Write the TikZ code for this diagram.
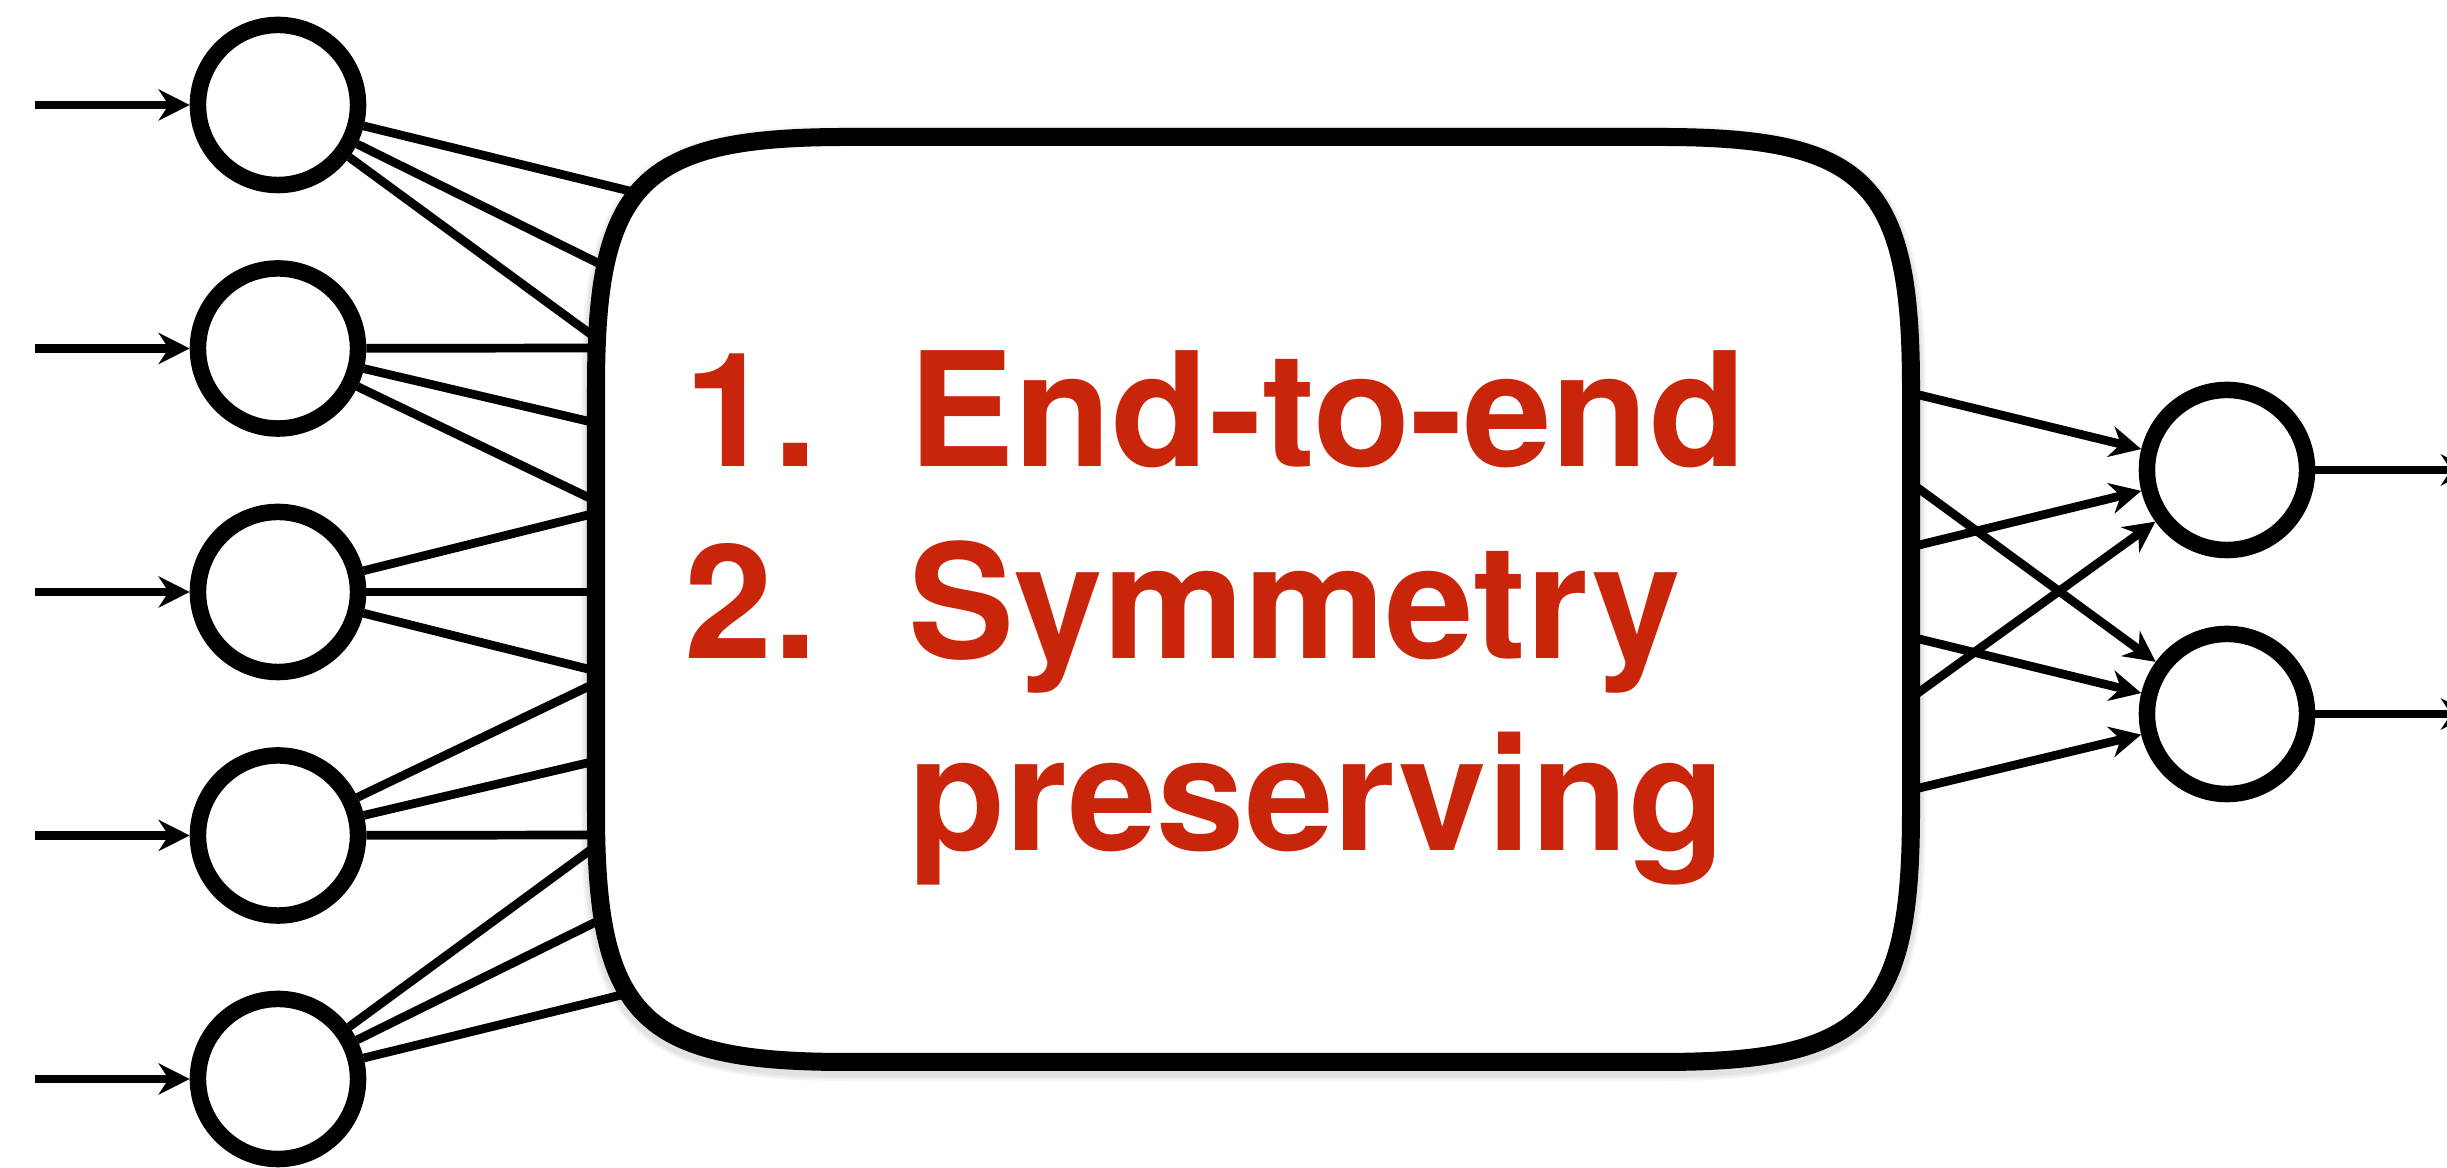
\documentclass[tikz,border=0pt]{standalone}
\usepackage{fontspec}
\setmainfont{TeX Gyre Heros}
\usepackage{tikz}
\usetikzlibrary{arrows.meta,positioning,backgrounds,calc}
\definecolor{ink}{HTML}{000000}
\definecolor{claimred}{HTML}{C8250A}

\tikzset{
  neuron/.style={circle,draw=ink,line width=0.165cm,fill=white,
                 minimum size=1.6cm,inner sep=0pt},
  wire/.style={draw=ink,line width=0.087cm},
  feed/.style={wire,-{Stealth[length=0.31cm,width=0.31cm,inset=0.1cm]}},
  blackbox/.style={draw=ink,line width=0.18cm,fill=white},
  boxshade/.style={draw=black,draw opacity=0.04,yshift=-0.04cm}
}
\newcommand{\boxoutline}{(596,387) .. controls (596,182) and (641,137) .. (846,137)
  -- (1661,137) .. controls (1866,137) and (1911,182) .. (1911,387)
  -- (1911,812) .. controls (1911,1017) and (1866,1062) .. (1661,1062)
  -- (846,1062) .. controls (641,1062) and (596,1017) .. (596,812) -- cycle}

\begin{document}
\begin{tikzpicture}[x=0.01cm,y=-0.01cm]
  \useasboundingbox (0,0) rectangle (2447,1168);

  % input layer
  \foreach \i in {1,...,5}
    \node[neuron] (in\i) at (278,{105+243.5*(\i-1)}) {};
  % output layer
  \node[neuron] (out1) at (2227,470) {};
  \node[neuron] (out2) at (2227,714) {};

  \begin{scope}[on background layer]
    \foreach \i in {1,...,5} {
      \coordinate (src\i) at (35,{105+243.5*(\i-1)});
      \draw[feed] (src\i) -- (in\i);
    }
    \foreach \i/\pts in {1/{650/196,612/270,600/341},
                         2/{600/348,600/424,600/503},
                         3/{600/512,600/592,600/672},
                         4/{600/681,600/760,600/835},
                         5/{600/843,612/914,650/988}}
      \foreach \px/\py [count=\j] in \pts {
        \coordinate (edge\i\j) at (\px,\py);
        \draw[wire] (in\i) -- (edge\i\j);
      }
    \foreach \y/\o in {393/1,547/1,698/1,483/2,637/2,790/2} {
      \coordinate (tap\y) at (1911,\y);
      \draw[feed] (tap\y) -- (out\o);
    }
    \foreach \o/\y in {1/470,2/714} {
      \coordinate (sink\o) at (2472,\y);
      \draw[feed] (out\o) -- (sink\o);
    }
  \end{scope}

  % the network box
  \foreach \w in {0.30,0.26,0.22}
    \draw[boxshade,line width=\w cm] \boxoutline;
  \draw[blackbox] \boxoutline;

  \node[anchor=base west,inner sep=0pt,text=claimred,
        font=\bfseries\fontsize{45.2pt}{54.6pt}\selectfont] (claims) at (684,467)
  {\begin{tabular}[t]{@{}p{2.24cm}@{}l@{}}
     1. & End-to-end\\
     2. & Symmetry\\
        & preserving
   \end{tabular}};
\end{tikzpicture}
\end{document}
